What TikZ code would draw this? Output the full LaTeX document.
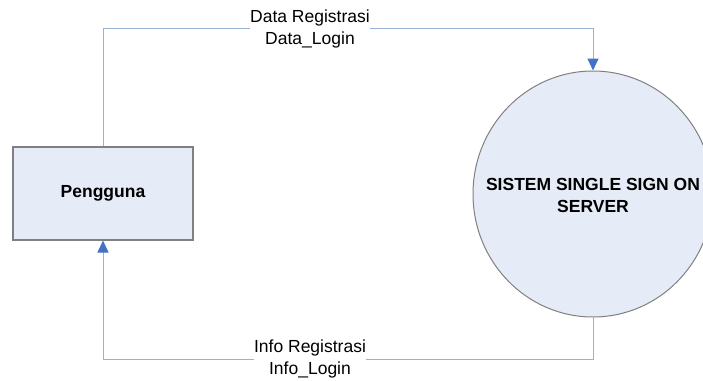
\documentclass[tikz,border=0pt]{standalone}
\usepackage{fontspec}
\setmainfont{Liberation Sans}
\usetikzlibrary{arrows.meta,shapes.geometric}
\definecolor{boxfill}{RGB}{230,236,247}
\definecolor{boxline}{RGB}{128,128,128}
\definecolor{flowline}{RGB}{149,179,215}
\definecolor{tipc}{RGB}{68,114,196}
\tikzset{
  entity/.style={draw=boxline, fill=boxfill, line width=1.1pt, minimum width=180pt, minimum height=93pt, inner sep=0pt, font=\fontsize{17.5}{22}\selectfont\bfseries},
  process/.style={ellipse, draw=boxline, fill=boxfill, line width=1pt, minimum width=240pt, minimum height=246pt, inner sep=0pt, font=\fontsize{17.5}{22}\selectfont\bfseries},
  flow/.style={draw=flowline, line width=1pt, -{Triangle[length=12pt,width=11pt,color=tipc]}},
  flowlabel/.style={fill=white, inner sep=0pt, align=center, font=\fontsize{17.5}{22}\selectfont}
}
\begin{document}
\begin{tikzpicture}[x=1pt,y=-1pt]
\useasboundingbox (0,0) rectangle (703,380);
\clip (0,0) rectangle (703,380);
\node[entity] (pengguna) at (103,193.5) {Pengguna};
\node[process] (sso) at (593,194) {\makebox[0pt][c]{\raisebox{-3pt}[\height][\depth]{\begin{tabular}{@{}c@{}}SISTEM SINGLE SIGN ON\\SERVER\end{tabular}}}};
\coordinate (t1) at (103,28);
\coordinate (t2) at (593,28);
\coordinate (b1) at (593,359);
\coordinate (b2) at (103,359);
\draw[flow] (pengguna.north) -- (t1) -- (t2) -- (sso.north);
\draw[flow] (sso.south) -- (b1) -- (b2) -- (pengguna.south);
\node[flowlabel] (toplabel) at (310,29) {Data Registrasi\\Data\_Login};
\node[flowlabel] (botlabel) at (310,359) {Info Registrasi\\Info\_Login};
\end{tikzpicture}
\end{document}
